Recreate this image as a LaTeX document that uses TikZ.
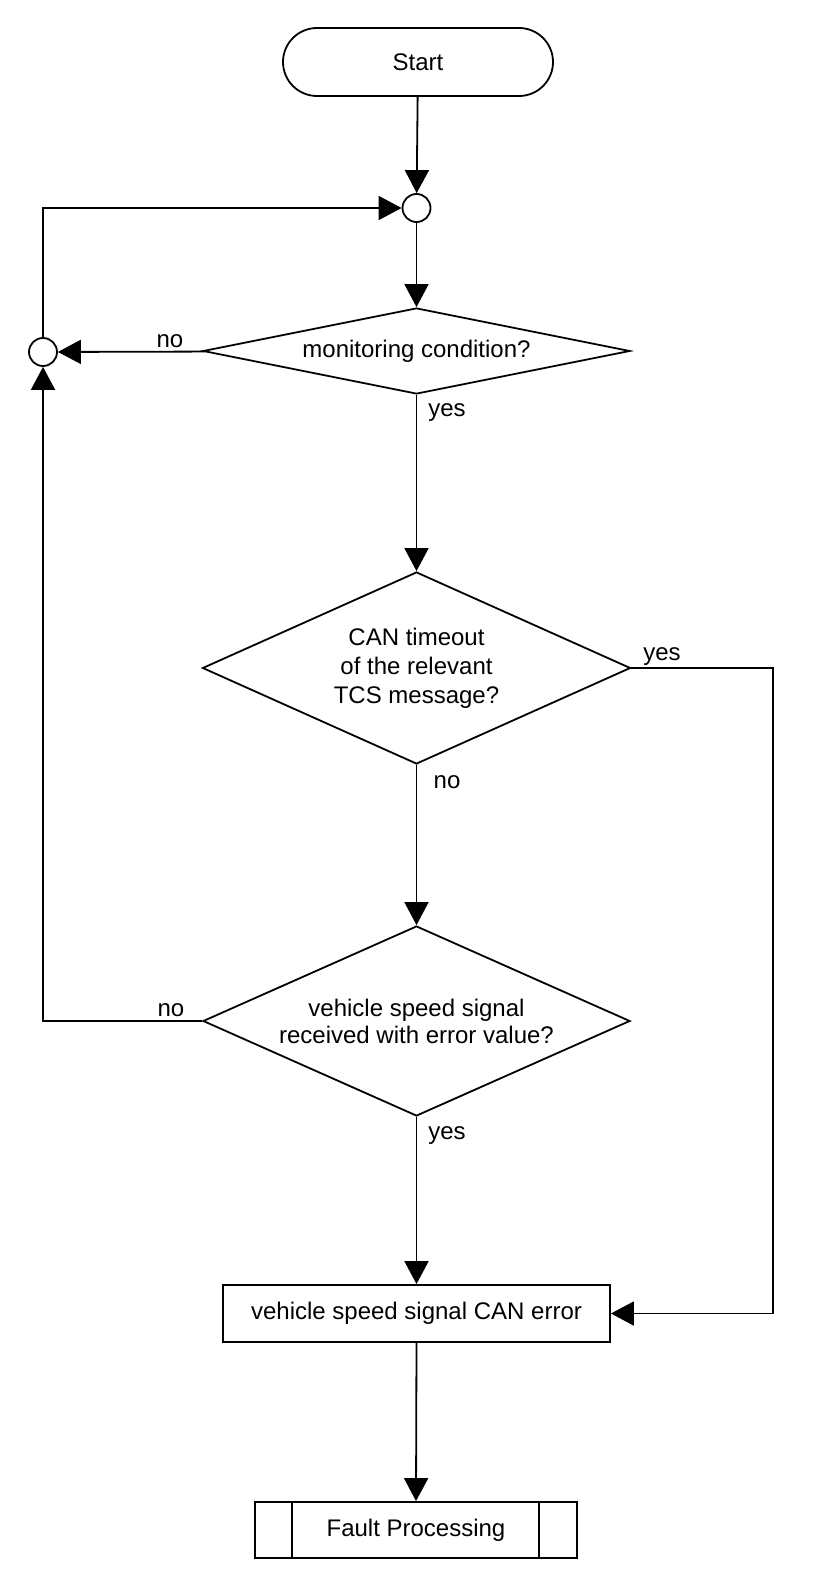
\documentclass[tikz,border=0pt]{standalone}
\usepackage{fontspec}
\setmainfont{Liberation Sans}
\usetikzlibrary{arrows.meta,shapes.geometric}
\begin{document}
\begin{tikzpicture}[x=1pt,y=-1pt, line width=1.8pt,
  every node/.style={font=\fontsize{24}{28}\selectfont},
  dec/.style={diamond, draw, inner sep=0pt, align=center},
  conn/.style={circle, draw, minimum size=28pt, inner sep=0pt},
  proc/.style={rectangle, draw, inner sep=0pt},
  arr/.style={-{Triangle[length=23pt,width=24pt]}},
  lbl/.style={inner sep=0pt}]
\useasboundingbox (0,0) rectangle (816,1578);

\node[proc, rounded corners=34pt, minimum width=270pt, minimum height=68pt] (start) at (418,62) {Start};
\node[conn] (c1) at (416.5,208) {};
\node[conn] (c2) at (43,352) {};
\node[dec, shape aspect=5, minimum width=427pt, minimum height=86pt] (d1) at (416.5,351) {monitoring condition?};
\node[dec, shape aspect=2.2, minimum width=428pt, minimum height=192pt, font=\fontsize{24}{29}\selectfont] (d2) at (416.5,668) {CAN timeout\\of the relevant\\TCS message?};
\node[dec, shape aspect=2.2, minimum width=427pt, minimum height=190pt, font=\fontsize{24}{27}\selectfont] (d3) at (416.5,1021) {vehicle speed signal\\received with error value?};
\node[proc, minimum width=387pt, minimum height=57pt] (box) at (416.5,1313.5) {vehicle speed signal CAN error};
\node[proc, minimum width=322pt, minimum height=56pt] (fault) at (416,1530) {Fault Processing};
\draw ([xshift=38pt]fault.north west) -- ([xshift=38pt]fault.south west);
\draw ([xshift=-39pt]fault.north east) -- ([xshift=-39pt]fault.south east);

\coordinate (rx) at (773,0);

\node[lbl] (l1) at (170,341) {no};
\node[lbl] (l2) at (447,413) {yes};
\node[lbl] (l3) at (662,657) {yes};
\node[lbl] (l4) at (447,782) {no};
\node[lbl] (l5) at (171,1010) {no};
\node[lbl] (l6) at (447,1136) {yes};

\draw[arr] (start) -- (c1);
\draw[arr] (c1) -- (d1);
\draw[arr] (d1) -- (c2);
\draw[arr] (c2.north) |- (c1.west);
\draw[arr] (d1.south) -- (d2.north);
\draw[arr] (d2.south) -- (d3.north);
\draw[arr] (d2.east) -- (d2.east -| rx) -- (rx |- box.east) -- (box.east);
\draw[arr] (d3.west) -| (c2.south);
\draw[arr] (d3.south) -- (box.north);
\draw[arr] (box.south) -- (fault.north);
\end{tikzpicture}
\end{document}
